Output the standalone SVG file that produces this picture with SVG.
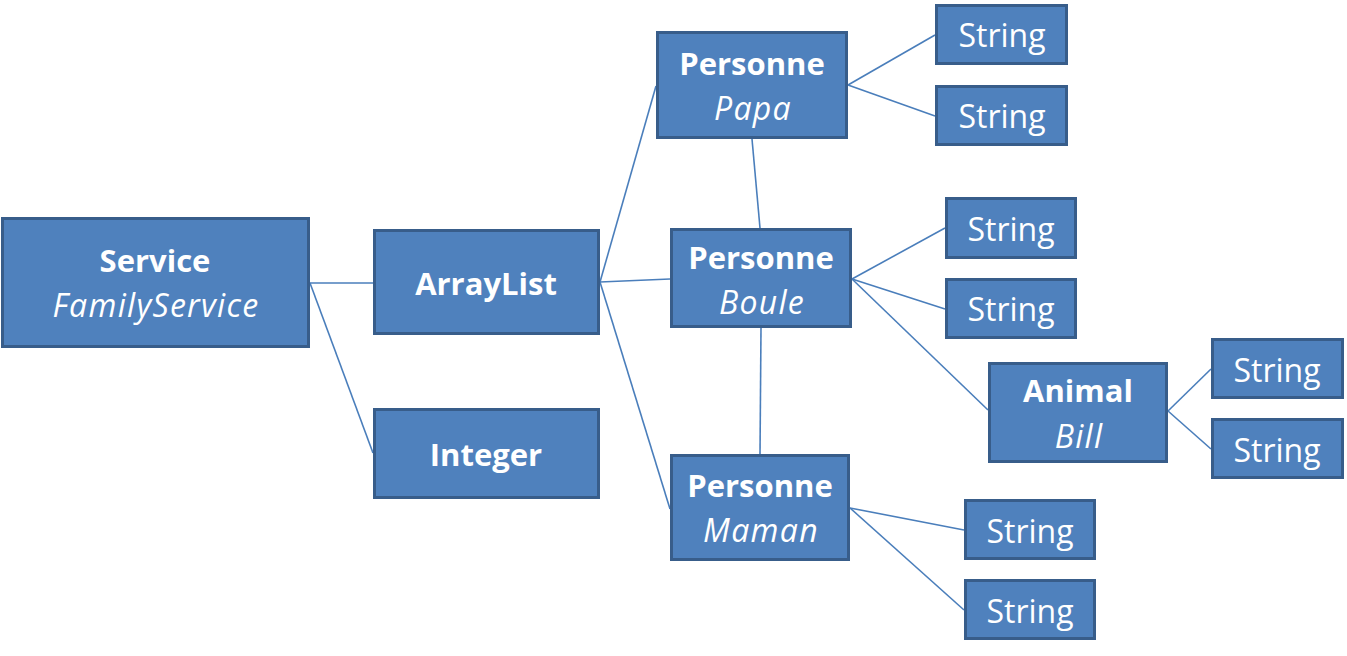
<svg xmlns="http://www.w3.org/2000/svg" width="1347" height="656" viewBox="0 0 1347 656">
<style>
.box{fill:#4F81BD;stroke:#385D8A;stroke-width:3}
.t{font-family:"Open Sans","Noto Sans",sans-serif;font-size:32px;fill:#fff;text-anchor:middle}
.b{font-weight:bold;font-size:31px}
.i{font-style:italic;font-size:32px;letter-spacing:1.3px}
.c{stroke:#4A7EBB;stroke-width:1.6;fill:none}
</style>
<rect width="1347" height="656" fill="#fff"/>
<g id="connectors">
<line class="c" x1="310" y1="283" x2="373" y2="283"/>
<line class="c" x1="310" y1="283" x2="373" y2="453"/>
<line class="c" x1="600" y1="282" x2="656" y2="86"/>
<line class="c" x1="600" y1="282" x2="670" y2="279"/>
<line class="c" x1="600" y1="282" x2="670" y2="509"/>
<line class="c" x1="752" y1="139" x2="760" y2="228"/>
<line class="c" x1="761" y1="328" x2="760" y2="454"/>
<line class="c" x1="848" y1="85" x2="935" y2="35"/>
<line class="c" x1="848" y1="85" x2="935" y2="116"/>
<line class="c" x1="852" y1="279" x2="945" y2="228"/>
<line class="c" x1="852" y1="279" x2="945" y2="309"/>
<line class="c" x1="852" y1="279" x2="988" y2="410"/>
<line class="c" x1="1168" y1="411" x2="1211" y2="369"/>
<line class="c" x1="1168" y1="411" x2="1211" y2="449"/>
<line class="c" x1="850" y1="508" x2="964" y2="530"/>
<line class="c" x1="850" y1="508" x2="964" y2="610"/>
</g>
<g id="service"><rect class="box" x="2.5" y="218.5" width="306" height="128"/><text class="t b" x="155" y="272">Service</text><text class="t i" x="156" y="317">FamilyService</text></g>
<g id="arraylist"><rect class="box" x="374.5" y="230.5" width="224" height="103"/><text class="t b" x="486" y="295">ArrayList</text></g>
<g id="integer"><rect class="box" x="374.5" y="409.5" width="224" height="88"/><text class="t b" x="486" y="466">Integer</text></g>
<g id="papa"><rect class="box" x="657.5" y="32.5" width="189" height="105"/><text class="t b" x="752" y="75">Personne</text><text class="t i" x="753" y="120">Papa</text></g>
<g id="boule"><rect class="box" x="671.5" y="229.5" width="179" height="97"/><text class="t b" x="761" y="269">Personne</text><text class="t i" x="762" y="314">Boule</text></g>
<g id="maman"><rect class="box" x="671.5" y="455.5" width="177" height="104"/><text class="t b" x="760" y="497">Personne</text><text class="t i" x="761" y="542">Maman</text></g>
<g id="animal"><rect class="box" x="989.5" y="363.5" width="177" height="98"/><text class="t b" x="1078" y="402">Animal</text><text class="t i" x="1079" y="448">Bill</text></g>
<g id="s1"><rect class="box" x="936.5" y="5.5" width="130" height="58"/><text class="t" x="1002" y="47">String</text></g>
<g id="s2"><rect class="box" x="936.5" y="86.5" width="130" height="58"/><text class="t" x="1002" y="128">String</text></g>
<g id="s3"><rect class="box" x="946.5" y="198.5" width="129" height="59"/><text class="t" x="1011" y="241">String</text></g>
<g id="s4"><rect class="box" x="946.5" y="279.5" width="129" height="58"/><text class="t" x="1011" y="321">String</text></g>
<g id="s5"><rect class="box" x="1212.5" y="339.5" width="130" height="58"/><text class="t" x="1277" y="382">String</text></g>
<g id="s6"><rect class="box" x="1212.5" y="419.5" width="130" height="58"/><text class="t" x="1277" y="462">String</text></g>
<g id="s7"><rect class="box" x="965.5" y="500.5" width="129" height="58"/><text class="t" x="1030" y="543">String</text></g>
<g id="s8"><rect class="box" x="965.5" y="580.5" width="129" height="58"/><text class="t" x="1030" y="623">String</text></g>
</svg>
